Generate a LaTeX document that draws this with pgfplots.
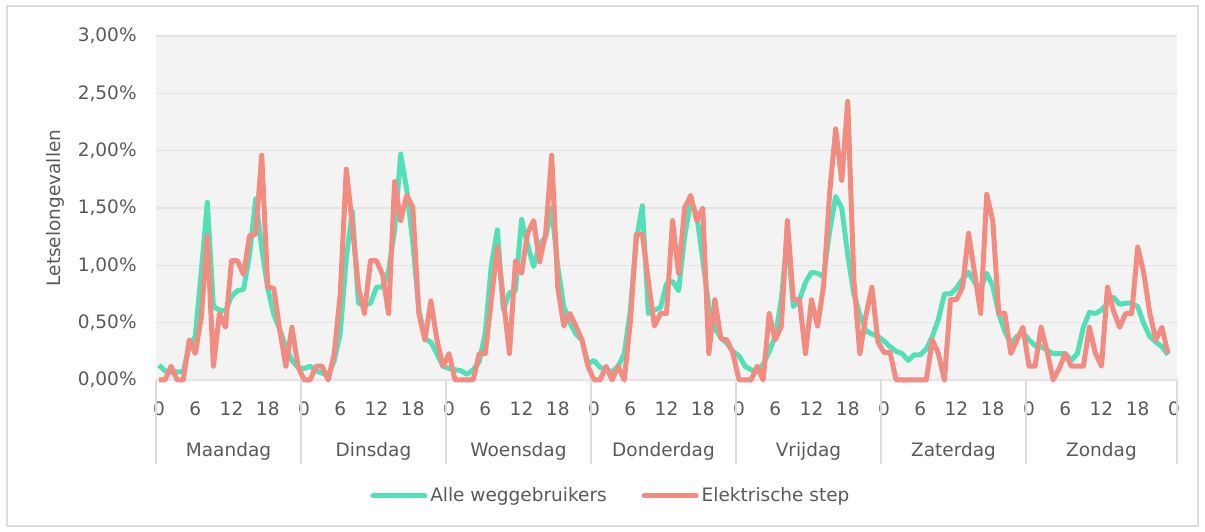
\documentclass[border=0pt]{standalone}
\usepackage{fontspec}
\setmainfont{DejaVu Sans}
\usepackage{pgfplots}
\pgfplotsset{compat=1.18}
\usepackage{pgfplotstable}
\definecolor{mint}{HTML}{52E0B8}
\definecolor{salmon}{HTML}{F28C80}
\definecolor{txt}{HTML}{595959}
\definecolor{plotbg}{HTML}{F3F3F3}
\definecolor{gridc}{HTML}{E4E4E4}
\definecolor{sepc}{HTML}{DDDDDD}
\newcommand{\fs}{\fontsize{9.25pt}{11pt}\selectfont}
\pgfplotstableread{
h a e
0 0.13 0
1 0.08 0
2 0.07 0.12
3 0.07 0
4 0.07 0
5 0.29 0.35
6 0.38 0.23
7 0.95 0.55
8 1.55 1.26
9 0.64 0.12
10 0.61 0.58
11 0.60 0.46
12 0.73 1.04
13 0.78 1.04
14 0.79 0.92
15 1.10 1.26
16 1.58 1.27
17 1.15 1.96
18 0.80 0.81
19 0.57 0.80
20 0.44 0.43
21 0.28 0.12
22 0.17 0.46
23 0.11 0.12
24 0.10 0
25 0.12 0
26 0.08 0.12
27 0.06 0.12
28 0.04 0
29 0.17 0.23
30 0.41 0.75
31 1.07 1.84
32 1.47 1.35
33 0.67 0.81
34 0.65 0.58
35 0.67 1.04
36 0.81 1.04
37 0.81 0.92
38 0.95 0.58
39 1.31 1.73
40 1.97 1.39
41 1.66 1.61
42 1.20 1.51
43 0.62 0.58
44 0.36 0.35
45 0.33 0.69
46 0.23 0.35
47 0.12 0.12
48 0.10 0.23
49 0.09 0
50 0.08 0
51 0.05 0
52 0.09 0
53 0.16 0.23
54 0.41 0.23
55 1.00 0.70
56 1.31 1.16
57 0.61 0.70
58 0.76 0.23
59 0.78 1.04
60 1.40 0.93
61 1.18 1.28
62 0.99 1.39
63 1.18 1.03
64 1.25 1.28
65 1.50 1.96
66 0.99 0.81
67 0.64 0.47
68 0.50 0.58
69 0.40 0.47
70 0.35 0.35
71 0.14 0.12
72 0.17 0
73 0.11 0
74 0.09 0.12
75 0.07 0
76 0.12 0.12
77 0.23 0
78 0.60 0.50
79 1.22 1.27
80 1.52 1.27
81 0.58 0.86
82 0.61 0.47
83 0.63 0.58
84 0.84 0.58
85 0.86 1.39
86 0.78 0.93
87 1.25 1.50
88 1.56 1.61
89 1.44 1.39
90 1.05 1.50
91 0.64 0.23
92 0.45 0.70
93 0.37 0.36
94 0.32 0.35
95 0.25 0.23
96 0.21 0
97 0.12 0
98 0.09 0
99 0.07 0.12
100 0.14 0
101 0.25 0.58
102 0.38 0.35
103 0.70 0.47
104 1.25 1.39
105 0.64 0.70
106 0.70 0.70
107 0.85 0.23
108 0.94 0.70
109 0.93 0.47
110 0.90 0.82
111 1.30 1.63
112 1.60 2.19
113 1.50 1.74
114 1.09 2.43
115 0.75 0.88
116 0.57 0.23
117 0.43 0.56
118 0.40 0.81
119 0.38 0.33
120 0.34 0.24
121 0.29 0.24
122 0.25 0
123 0.23 0
124 0.17 0
125 0.22 0
126 0.22 0
127 0.27 0
128 0.38 0.35
129 0.53 0.23
130 0.75 0
131 0.75 0.70
132 0.80 0.70
133 0.88 0.81
134 0.94 1.28
135 0.85 0.93
136 0.80 0.58
137 0.93 1.62
138 0.82 1.39
139 0.58 0.58
140 0.42 0.58
141 0.32 0.23
142 0.38 0.35
143 0.41 0.46
144 0.35 0.12
145 0.30 0.12
146 0.29 0.46
147 0.26 0.25
148 0.23 0
149 0.23 0.10
150 0.23 0.23
151 0.17 0.12
152 0.23 0.12
153 0.46 0.12
154 0.59 0.46
155 0.58 0.23
156 0.61 0.12
157 0.67 0.81
158 0.72 0.60
159 0.66 0.46
160 0.67 0.58
161 0.67 0.58
162 0.64 1.16
163 0.49 0.93
164 0.38 0.58
165 0.33 0.35
166 0.29 0.46
167 0.22 0.23
}\data
\begin{document}
\begin{tikzpicture}
\begin{axis}[
  scale only axis, width=510.5pt, height=172pt,
  xmin=-0.5, xmax=168.5, ymin=0, ymax=3,
  clip=false,
  axis background/.style={fill=plotbg},
  axis line style={draw=none},
  ymajorgrids, grid style={gridc, line width=0.8pt},
  ytick={0,0.5,1,1.5,2,2.5,3},
  /pgf/number format/assume math mode=true,
  yticklabel={\pgfmathprintnumber[fixed,fixed zerofill,precision=2,use comma]{\tick}\%},
  xtick={0,6,...,168},
  xticklabels={0,6,12,18,0,6,12,18,0,6,12,18,0,6,12,18,0,6,12,18,0,6,12,18,0,6,12,18,0},
  major tick length=0pt,
  tick label style={font=\fs, text=txt},
  xticklabel style={anchor=center, yshift=-14.5pt},
  yticklabel style={anchor=east, inner sep=0pt, xshift=-9.5pt},
  ylabel={Letselongevallen},
  ylabel style={at={(axis description cs:-0.0989,0.5)}, anchor=center, font=\fs, text=txt},
  legend style={at={(axis description cs:0.446,-0.337)}, anchor=center, draw=none, fill=none,
    font=\fs, text=txt, legend columns=2,
    nodes={inner sep=1.5pt},
    /tikz/every even column/.append style={column sep=16pt}},
  legend image code/.code={\draw[#1, line cap=round] (0pt,0pt) -- (26pt,0pt);},
]
\addplot[mint, line width=2.5pt, line join=round] table[x=h,y=a]{\data};
\addlegendentry{Alle weggebruikers}
\addplot[salmon, line width=2.5pt, line join=round] table[x=h,y=e]{\data};
\addlegendentry{Elektrische step}
\draw[sepc, line width=0.8pt] (axis cs:-0.5,0) -- (axis cs:-0.5,-0.732);
\draw[sepc, line width=0.8pt] (axis cs:23.5,0) -- (axis cs:23.5,-0.732);
\draw[sepc, line width=0.8pt] (axis cs:47.5,0) -- (axis cs:47.5,-0.732);
\draw[sepc, line width=0.8pt] (axis cs:71.5,0) -- (axis cs:71.5,-0.732);
\draw[sepc, line width=0.8pt] (axis cs:95.5,0) -- (axis cs:95.5,-0.732);
\draw[sepc, line width=0.8pt] (axis cs:119.5,0) -- (axis cs:119.5,-0.732);
\draw[sepc, line width=0.8pt] (axis cs:143.5,0) -- (axis cs:143.5,-0.732);
\draw[sepc, line width=0.8pt] (axis cs:168.5,0) -- (axis cs:168.5,-0.732);
\node[font=\fs, text=txt] at (axis cs:11.5,-0.619) {Maandag};
\node[font=\fs, text=txt] at (axis cs:35.5,-0.619) {Dinsdag};
\node[font=\fs, text=txt] at (axis cs:59.5,-0.619) {Woensdag};
\node[font=\fs, text=txt] at (axis cs:83.5,-0.619) {Donderdag};
\node[font=\fs, text=txt] at (axis cs:107.5,-0.619) {Vrijdag};
\node[font=\fs, text=txt] at (axis cs:131.5,-0.619) {Zaterdag};
\node[font=\fs, text=txt] at (axis cs:156,-0.619) {Zondag};
\draw[sepc, line width=1pt] (axis description cs:-0.14594,1.08721) rectangle (axis description cs:1.02057,-0.42442);
\path (axis description cs:-0.15279,1.10465) rectangle (axis description cs:1.02742,-0.44186);
\end{axis}
\end{tikzpicture}
\end{document}
